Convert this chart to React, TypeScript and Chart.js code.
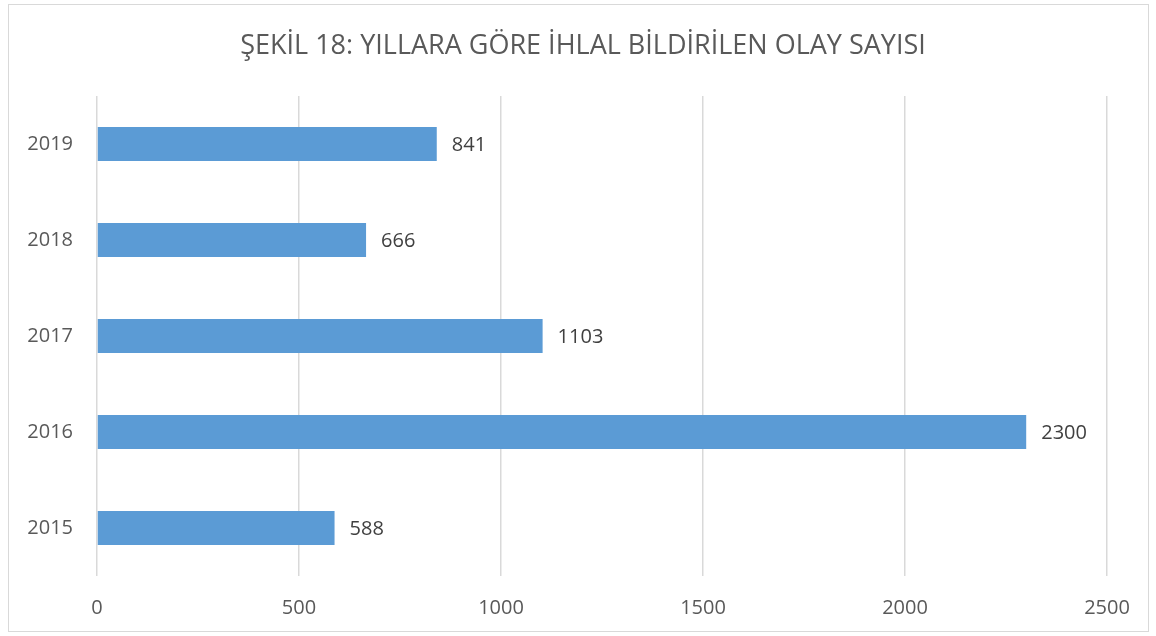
import React, { useEffect, useRef } from "react";
import { Chart, registerables } from "chart.js";

Chart.register(...registerables);

const titleText = "ŞEKİL 18: YILLARA GÖRE İHLAL BİLDİRİLEN OLAY SAYISI";
const years = ["2015", "2016", "2017", "2018", "2019"];
const counts = [588, 2300, 1103, 666, 841];
const xTicks = [0, 500, 1000, 1500, 2000, 2500];

const FONT = "'Open Sans', 'Noto Sans', sans-serif";

const framePlugin = {
  id: "frame",
  beforeDraw(chart: any) {
    const ctx = chart.ctx;
    ctx.save();
    ctx.fillStyle = "#ffffff";
    ctx.fillRect(0, 0, chart.width, chart.height);
    ctx.strokeStyle = "#d9d9d9";
    ctx.lineWidth = 1;
    ctx.strokeRect(8.5, 4.5, 1140, 627);
    ctx.fillStyle = "#595959";
    ctx.font = `27px ${FONT}`;
    ctx.textAlign = "center";
    ctx.textBaseline = "middle";
    ctx.fillText(titleText, 583, 46);
    ctx.restore();
  },
};

const labelPlugin = {
  id: "valueLabels",
  afterDatasetsDraw(chart: any) {
    const ctx = chart.ctx;
    const meta = chart.getDatasetMeta(0);
    ctx.save();
    ctx.fillStyle = "#404040";
    ctx.font = `20px ${FONT}`;
    ctx.textAlign = "left";
    ctx.textBaseline = "middle";
    meta.data.forEach((bar: any, i: number) => {
      ctx.fillText(String(counts[i]), bar.x + 15, bar.y + 1);
    });
    ctx.restore();
  },
};

export default function App() {
  const ref = useRef<HTMLCanvasElement | null>(null);
  useEffect(() => {
    if (!ref.current) return;
    const chart = new Chart(ref.current, {
      type: "bar",
      data: {
        labels: years,
        datasets: [
          {
            data: counts,
            backgroundColor: "#5B9BD5",
            borderWidth: 0,
            barPercentage: 0.354,
            categoryPercentage: 1,
          },
        ],
      },
      options: {
        indexAxis: "y",
        animation: false,
        responsive: false,
        maintainAspectRatio: false,
        layout: { padding: { left: 0, right: 49, top: 96, bottom: 0 } },
        plugins: {
          legend: { display: false },
          title: { display: false },
          tooltip: { enabled: false },
        },
        scales: {
          x: {
            type: "linear",
            min: 0,
            max: 2500,
            afterBuildTicks: (s: any) => {
              s.ticks = xTicks.map((v) => ({ value: v }));
            },
            afterFit: (s: any) => {
              s.height = 60;
            },
            grid: { color: "#d9d9d9", lineWidth: 1.5, drawTicks: false },
            border: { display: false },
            ticks: {
              padding: 20,
              color: "#595959",
              font: { family: FONT, size: 20 },
              callback: (v: any) => String(v),
            },
          },
          y: {
            type: "category",
            reverse: true,
            afterFit: (s: any) => {
              s.width = 97;
            },
            grid: { display: false, drawTicks: false },
            border: { display: false },
            ticks: {
              padding: 24,
              color: "#595959",
              font: { family: FONT, size: 20 },
            },
          },
        },
      },
      plugins: [framePlugin, labelPlugin],
    });
    return () => chart.destroy();
  }, []);
  return (
    <canvas
      ref={ref}
      width={1156}
      height={636}
      style={{ position: "fixed", left: 0, top: 0, width: 1156, height: 636 }}
    />
  );
}
